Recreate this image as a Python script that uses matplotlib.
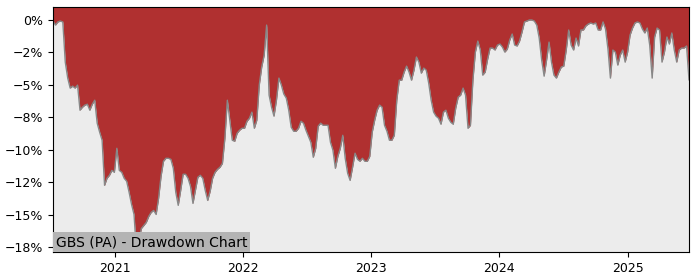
import matplotlib
matplotlib.use("Agg")
import matplotlib.pyplot as plt
import matplotlib.dates as mdates
from matplotlib.ticker import MultipleLocator, PercentFormatter
import pandas as pd

# weekly drawdown readings (%), starting 2020-07-08
start_date = "2020-07-08"
title = "GBS (PA) - Drawdown Chart"
drawdown = [
    -0.08, -0.39, -0.15, -0.08, -0.15, -3.24, -4.47, -5.24, -5.09, -5.24,
    -5.01, -6.94, -6.71, -6.55, -6.48, -6.94, -6.48, -6.17, -7.94, -8.63,
    -9.25, -12.72, -12.18, -11.95, -11.57, -11.72, -9.87, -11.57, -11.72, -12.18,
    -12.41, -13.26, -14.19, -14.96, -17.85, -16.96, -16.04, -15.81, -15.57, -15.11,
    -14.80, -14.65, -14.96, -13.72, -12.03, -10.87, -10.64, -10.64, -10.72, -11.41,
    -13.26, -14.26, -13.11, -11.87, -11.87, -12.18, -12.80, -14.11, -13.11, -12.10,
    -11.95, -12.18, -13.11, -13.88, -13.18, -12.18, -11.72, -11.49, -11.33, -11.03,
    -9.10, -6.17, -7.71, -9.25, -9.33, -8.71, -8.48, -8.33, -8.33, -7.79,
    -7.56, -7.09, -8.33, -7.71, -5.01, -3.62, -2.70, -0.39, -5.78, -6.71,
    -7.40, -6.17, -4.47, -5.01, -5.70, -6.01, -6.94, -8.25, -8.56, -8.56,
    -8.33, -7.79, -7.94, -8.48, -8.94, -9.41, -10.56, -9.87, -8.17, -7.94,
    -8.10, -8.10, -8.10, -9.41, -10.02, -11.41, -10.49, -9.87, -8.87, -10.64,
    -11.80, -12.34, -11.33, -10.25, -10.72, -10.87, -10.64, -10.87, -10.87, -10.49,
    -8.63, -7.71, -6.94, -6.55, -6.71, -8.10, -8.56, -9.25, -9.25, -8.87,
    -6.17, -4.63, -4.63, -4.01, -3.55, -4.01, -4.63, -3.86, -2.85, -3.24,
    -4.09, -3.70, -3.86, -4.86, -6.17, -7.09, -7.40, -7.56, -8.02, -7.09,
    -6.94, -7.56, -7.87, -8.02, -6.78, -5.94, -5.78, -5.24, -5.78, -8.33,
    -8.10, -4.63, -2.47, -1.62, -2.31, -4.24, -4.01, -3.01, -2.16, -2.16,
    -2.31, -1.93, -1.85, -2.08, -2.47, -2.24, -1.54, -1.08, -1.93, -2.00,
    -1.62, -0.93, -0.15, -0.08, 0.00, 0.00, -0.08, -0.39, -1.39, -3.08,
    -4.32, -3.08, -1.70, -3.24, -4.24, -4.47, -4.01, -3.62, -3.55, -2.31,
    -0.77, -1.93, -2.31, -1.39, -2.00, -0.77, -0.77, -0.46, -0.31, -0.23,
    -0.31, -0.23, -0.77, -0.77, -0.15, -0.69, -2.24, -4.47, -2.31, -2.47,
    -3.47, -2.70, -2.31, -3.24, -2.47, -1.16, -0.62, -0.23, -0.15, -0.23,
    -0.69, -1.00, -0.62, -1.93, -4.47, -1.31, -0.62, -0.77, -3.24, -2.47,
    -1.31, -1.85, -1.00, -2.31, -3.24, -2.31, -2.16, -2.16, -2.00, -4.60,
]

dates = pd.date_range(start_date, periods=len(drawdown), freq="7D")
top = 1.0

fig = plt.figure(figsize=(7, 2.8), dpi=100)
ax = fig.add_axes([0.0757, 0.1, 0.9086, 0.875])
ax.set_facecolor("#ececec")

ax.fill_between(dates, drawdown, top, color="#b03030", linewidth=0)
ax.plot(dates, drawdown, color="#888888", linewidth=1)

ax.set_xlim(dates[0], dates[-1])
ax.set_ylim(min(drawdown), top)

ax.yaxis.set_major_locator(MultipleLocator(2.5))
ax.yaxis.set_major_formatter(PercentFormatter(decimals=0))
ax.xaxis.set_major_locator(mdates.YearLocator())
ax.xaxis.set_major_formatter(mdates.DateFormatter("%Y"))
ax.tick_params(labelsize=9)

ax.text(0.004, 0.012, title, transform=ax.transAxes, fontsize=10,
        ha="left", va="bottom",
        bbox=dict(facecolor="#b4b4b4", edgecolor="none", pad=2))

fig.savefig("out.png", dpi=100)
